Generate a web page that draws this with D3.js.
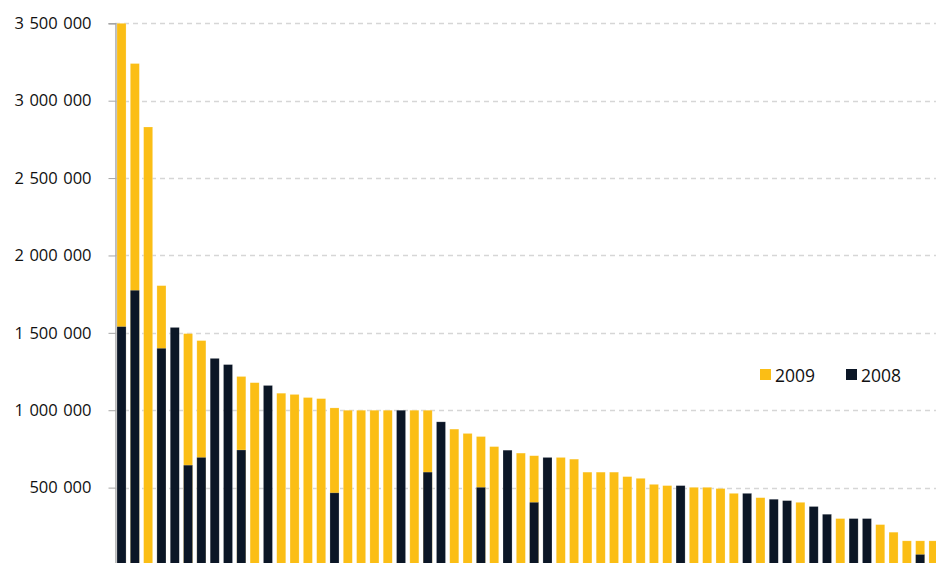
<!DOCTYPE html>
<html>
<head>
<meta charset="utf-8">
<script src="https://cdn.jsdelivr.net/npm/d3@7"></script>
<style>
  body { margin: 0; background: #fff; overflow: hidden; }
  svg { display: block; font-family: "Open Sans", sans-serif; }
</style>
</head>
<body>
<div class="viz"></div>
<script>
var SVGwd = 936, SVGht = 563;

// one entry per bar, ranked; null = no bar of that year
var ranks = [1,2,3,4,5,6,7,8,9,10,11,12,13,14,15,16,17,18,19,20,21,22,23,24,25,26,27,28,29,30,31,
    32,33,34,35,36,37,38,39,40,41,42,43,44,45,46,47,48,49,50,51,52,53,54,55,56,57,58,59,60,61,62];
var values2009 = [3500000,3240000,2830000,1805000,null,1495000,1450000,null,null,1218000,1178000,null,
    1110000,1102000,1082000,1075000,1015000,1000000,1000000,1000000,1000000,null,1000000,1000000,null,
    878000,850000,830000,765000,null,723000,706000,null,695000,684000,600000,600000,600000,571000,560000,
    521000,513000,null,502000,502000,494000,463000,null,435000,null,null,405000,null,null,300000,null,null,
    261000,212000,156000,156000,156000];
var values2008 = [1540000,1775000,null,1400000,1535000,645000,695000,1335000,1295000,743000,null,1160000,
    null,null,null,null,466000,null,null,null,null,1000000,null,600000,925000,
    null,null,502000,null,742000,null,405000,695000,null,null,null,null,null,null,null,
    null,null,513000,null,null,null,null,463000,null,425000,416000,null,378000,328000,null,300000,300000,
    null,null,null,68000,null];
var yTicks = [500000,1000000,1500000,2000000,2500000,3000000,3500000];
var seriesNames = ["2009", "2008"];
var seriesColors = ["#fbbe15", "#0b1626"];

var canvas = d3.select(".viz")
    .append("svg")
    .attr("width", SVGwd)
    .attr("height", SVGht);

var x = d3.scaleBand()
    .domain(ranks)
    .range([115, 940])
    .paddingInner(0.32)
    .paddingOuter(0.15);

var y = d3.scaleLinear()
    .domain([0, 3500000])
    .range([565, 23.3]);

var fmt = d3.formatLocale({ decimal: ",", thousands: "\u2004", grouping: [3], currency: ["", ""] }).format(",d");

// gridlines
canvas.append("g")
    .selectAll("line")
    .data(yTicks)
    .join("line")
    .attr("x1", 115)
    .attr("x2", SVGwd)
    .attr("y1", d => Math.round(y(d)) + 0.5)
    .attr("y2", d => Math.round(y(d)) + 0.5)
    .attr("stroke", "#d6d6d6")
    .attr("stroke-width", 1.3)
    .attr("stroke-dasharray", "5,4");

// y axis
var yAxis = canvas.append("g")
    .attr("transform", "translate(115.5,0)")
    .call(d3.axisLeft(y).tickValues(yTicks).tickSize(7).tickPadding(17).tickFormat(fmt));
yAxis.select(".domain").attr("stroke", "#a6a6a6").attr("stroke-width", 1.5);
yAxis.selectAll(".tick line").attr("stroke", "#a6a6a6");
yAxis.selectAll(".tick text")
    .attr("fill", "#111")
    .style("font-size", "16.5px")
    .style("font-family", "'Open Sans', sans-serif");

// bars: 2009 behind, 2008 in front
[values2009, values2008].forEach(function (vals, s) {
    canvas.append("g")
        .selectAll("rect")
        .data(ranks.filter((r, i) => vals[i] != null))
        .join("rect")
        .attr("x", r => x(r))
        .attr("width", x.bandwidth())
        .attr("y", r => y(vals[r - 1]))
        .attr("height", r => y(0) - y(vals[r - 1]))
        .attr("fill", seriesColors[s])
        .attr("stroke", "rgba(255,255,255,0.35)")
        .attr("stroke-width", 0.6);
});

// legend
var legend = canvas.append("g");
var legendX = [760, 846];
seriesNames.forEach(function (name, i) {
    legend.append("rect")
        .attr("x", legendX[i])
        .attr("y", 369)
        .attr("width", 11)
        .attr("height", 11)
        .attr("fill", seriesColors[i]);
    legend.append("text")
        .attr("x", legendX[i] + 15)
        .attr("y", 381.5)
        .text(name)
        .attr("fill", "#111")
        .style("font-size", "17.5px");
});
</script>
</body>
</html>
